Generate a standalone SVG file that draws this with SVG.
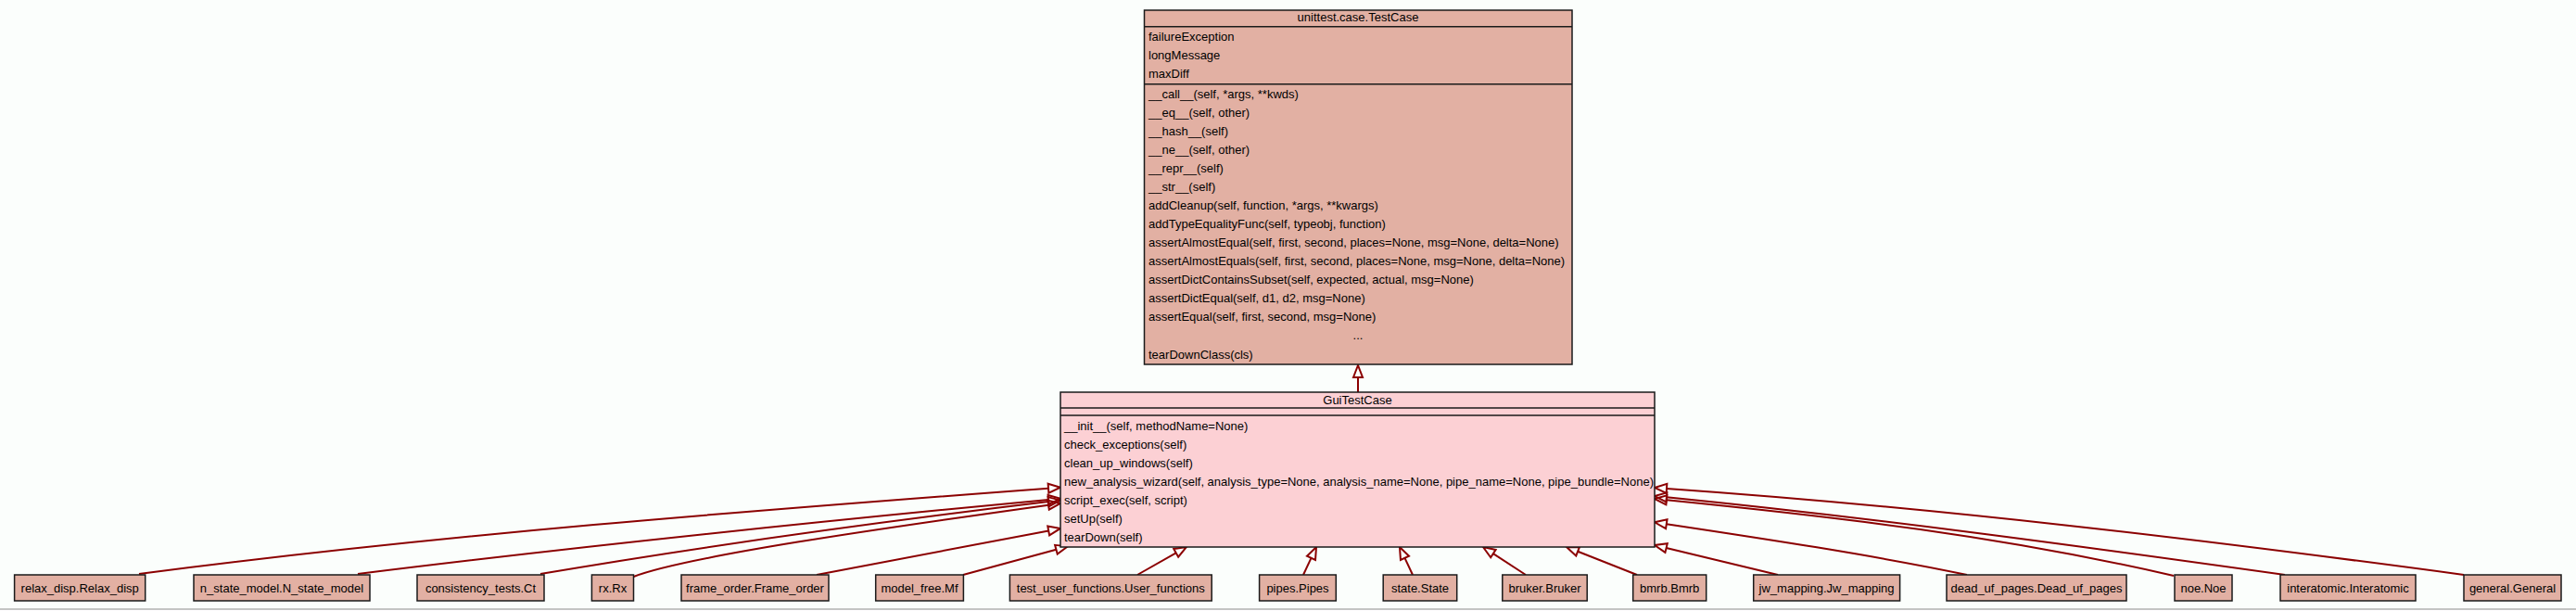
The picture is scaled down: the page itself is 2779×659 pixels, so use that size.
<svg xmlns="http://www.w3.org/2000/svg" width="2779" height="659" viewBox="0 0 2779 659">
<style>
text{font-family:"Liberation Sans",Arial,sans-serif;font-size:13px;fill:#000}
.c{text-anchor:middle}
.box{stroke:#1a1a1a;stroke-width:1.5}
.base{fill:#e2b0a3}
.gui{fill:#fcd0d4}
.sep{stroke:#1a1a1a;stroke-width:1.5}
.e{fill:none;stroke:#8b0000;stroke-width:2;marker-end:url(#ah)}
</style>
<defs>
<marker id="ah" markerUnits="userSpaceOnUse" markerWidth="16" markerHeight="12" viewBox="-1 -6 16 12" refX="0" refY="0" orient="auto" overflow="visible">
<path d="M0,-5 L13,0 L0,5 Z" fill="none" stroke="#8b0000" stroke-width="2"/>
</marker>
</defs>
<rect x="0" y="0" width="2779" height="659" fill="#fbfefc"/>
<rect x="0" y="657" width="2779" height="2" fill="#fff"/>
<line x1="0" y1="657" x2="2779" y2="657" stroke="#b0b0b0" stroke-width="1.5"/>

<g id="edges">
<path class="e" d="M1465,423 L1465,407"/>
<path class="e" d="M150,619 C477,576.5 804,551.2 1131,526.7"/>
<path class="e" d="M386,619 C634,588.2 883,562.5 1131.1,538.9"/>
<path class="e" d="M583,619 C766,587.9 948,563 1131.1,541.1"/>
<path class="e" d="M683.5,622 C740,600 950,570 1131.1,544.7"/>
<path class="e" d="M881,620 L1131.2,572.4"/>
<path class="e" d="M1039,620 L1139.4,592.7"/>
<path class="e" d="M1227,620 L1268.7,596.4"/>
<path class="e" d="M1406,620 L1414.5,601.8"/>
<path class="e" d="M1524,620 L1515.5,601.8"/>
<path class="e" d="M1646,620 L1610.9,597.1"/>
<path class="e" d="M1766,620 L1702.1,594.8"/>
<path class="e" d="M1918,620 L1797.6,591"/>
<path class="e" d="M2122,620 C2022,599 1897.8,580.2 1797.8,565.2"/>
<path class="e" d="M2345,621 C2158,578 1985,558 1797.9,539.3"/>
<path class="e" d="M2465,620 C2238,588.2 2025,559 1797.9,536.3"/>
<path class="e" d="M2658,620 C2368,580.9 2088,547.2 1798,526.9"/>
</g>

<g id="TestCase">
<rect class="box base" x="1234.5" y="11" width="461.5" height="382"/>
<line class="sep" x1="1234.5" y1="28.7" x2="1696" y2="28.7"/>
<line class="sep" x1="1234.5" y1="90.7" x2="1696" y2="90.7"/>
<text class="c" x="1465" y="23.3">unittest.case.TestCase</text>
<text x="1239" y="43.7">failureException</text>
<text x="1239" y="63.7">longMessage</text>
<text x="1239" y="83.7">maxDiff</text>
<text x="1239" y="105.5">__call__(self, *args, **kwds)</text>
<text x="1239" y="125.6">__eq__(self, other)</text>
<text x="1239" y="145.6">__hash__(self)</text>
<text x="1239" y="165.7">__ne__(self, other)</text>
<text x="1239" y="185.8">__repr__(self)</text>
<text x="1239" y="205.9">__str__(self)</text>
<text x="1239" y="225.9">addCleanup(self, function, *args, **kwargs)</text>
<text x="1239" y="246">addTypeEqualityFunc(self, typeobj, function)</text>
<text x="1239" y="266.1">assertAlmostEqual(self, first, second, places=None, msg=None, delta=None)</text>
<text x="1239" y="286.1">assertAlmostEquals(self, first, second, places=None, msg=None, delta=None)</text>
<text x="1239" y="306.2">assertDictContainsSubset(self, expected, actual, msg=None)</text>
<text x="1239" y="326.3">assertDictEqual(self, d1, d2, msg=None)</text>
<text x="1239" y="346.3">assertEqual(self, first, second, msg=None)</text>
<text class="c" x="1465" y="366.4">...</text>
<text x="1239" y="386.5">tearDownClass(cls)</text>
</g>

<g id="GuiTestCase">
<rect class="box gui" x="1144" y="423" width="641" height="167"/>
<line class="sep" x1="1144" y1="440" x2="1785" y2="440"/>
<line class="sep" x1="1144" y1="448" x2="1785" y2="448"/>
<text class="c" x="1464.5" y="435.5">GuiTestCase</text>
<text x="1148" y="464">__init__(self, methodName=None)</text>
<text x="1148" y="484">check_exceptions(self)</text>
<text x="1148" y="504">clean_up_windows(self)</text>
<text x="1148" y="524">new_analysis_wizard(self, analysis_type=None, analysis_name=None, pipe_name=None, pipe_bundle=None)</text>
<text x="1148" y="544">script_exec(self, script)</text>
<text x="1148" y="564">setUp(self)</text>
<text x="1148" y="584">tearDown(self)</text>
</g>

<g id="relax_disp"><rect class="box base" x="15.6" y="620" width="141.1" height="28"/><text class="c" x="86.2" y="638.5">relax_disp.Relax_disp</text></g>
<g id="n_state_model"><rect class="box base" x="209" y="620" width="190" height="28"/><text class="c" x="304" y="638.5">n_state_model.N_state_model</text></g>
<g id="consistency_tests"><rect class="box base" x="450" y="620" width="137" height="28"/><text class="c" x="518.5" y="638.5">consistency_tests.Ct</text></g>
<g id="rx"><rect class="box base" x="638.4" y="620" width="45.1" height="28"/><text class="c" x="661" y="638.5">rx.Rx</text></g>
<g id="frame_order"><rect class="box base" x="735" y="620" width="159" height="28"/><text class="c" x="814.5" y="638.5">frame_order.Frame_order</text></g>
<g id="model_free"><rect class="box base" x="944.7" y="620" width="94.7" height="28"/><text class="c" x="992" y="638.5">model_free.Mf</text></g>
<g id="test_user_functions"><rect class="box base" x="1089.4" y="620" width="217.8" height="28"/><text class="c" x="1198.3" y="638.5">test_user_functions.User_functions</text></g>
<g id="pipes"><rect class="box base" x="1358.6" y="620" width="82.7" height="28"/><text class="c" x="1400" y="638.5">pipes.Pipes</text></g>
<g id="state"><rect class="box base" x="1492.2" y="620" width="79.5" height="28"/><text class="c" x="1532" y="638.5">state.State</text></g>
<g id="bruker"><rect class="box base" x="1620.8" y="620" width="91.4" height="28"/><text class="c" x="1666.5" y="638.5">bruker.Bruker</text></g>
<g id="bmrb"><rect class="box base" x="1761.7" y="620" width="79" height="28"/><text class="c" x="1801.2" y="638.5">bmrb.Bmrb</text></g>
<g id="jw_mapping"><rect class="box base" x="1891.7" y="620" width="157.9" height="28"/><text class="c" x="1970.6" y="638.5">jw_mapping.Jw_mapping</text></g>
<g id="dead_uf_pages"><rect class="box base" x="2100" y="620" width="194" height="28"/><text class="c" x="2197" y="638.5">dead_uf_pages.Dead_uf_pages</text></g>
<g id="noe"><rect class="box base" x="2346" y="620" width="62" height="28"/><text class="c" x="2377" y="638.5">noe.Noe</text></g>
<g id="interatomic"><rect class="box base" x="2460" y="620" width="146" height="28"/><text class="c" x="2533" y="638.5">interatomic.Interatomic</text></g>
<g id="general"><rect class="box base" x="2658" y="620" width="105" height="28"/><text class="c" x="2710.5" y="638.5">general.General</text></g>
</svg>
